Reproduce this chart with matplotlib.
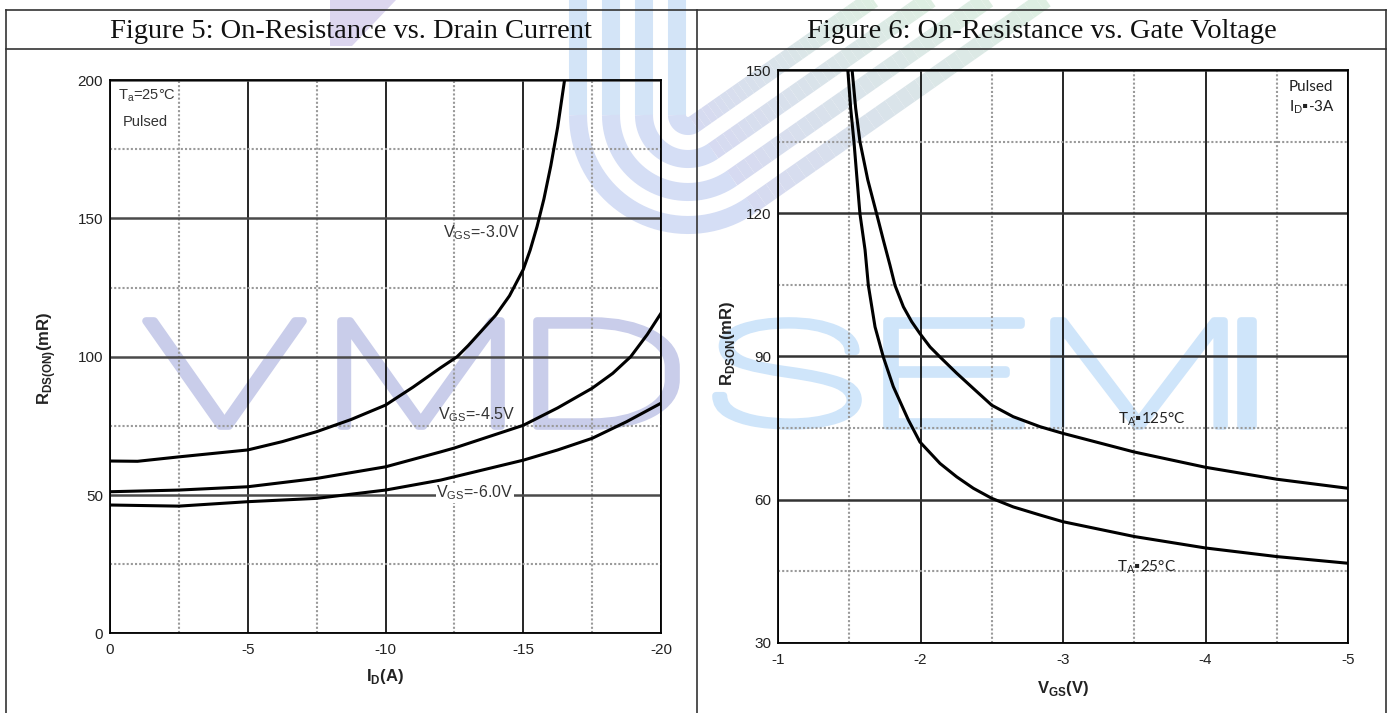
import numpy as np
import matplotlib
matplotlib.use("Agg")
import matplotlib.pyplot as plt
from matplotlib.textpath import TextPath
from matplotlib.font_manager import FontProperties
from matplotlib.patches import PathPatch, Polygon
from matplotlib.collections import LineCollection
from matplotlib.transforms import Affine2D
from matplotlib.colors import to_rgb

# ---------------- data ----------------
# Figure 5: On-Resistance vs. Drain Current
id_vgs30 = [0, -1, -2.5, -5, -6.25, -7.5, -8.75, -10, -11, -12, -12.6, -13, -13.5, -14, -14.5,
            -15, -15.25, -15.5, -15.75, -16, -16.25, -16.5]
r_vgs30 = [62.3, 62.2, 63.8, 66.3, 69.3, 72.9, 77.3, 82.5, 89, 96, 100, 104, 109.5, 115, 122,
           131.5, 138.5, 147, 157, 169, 183, 200]
id_vgs45 = [0, -2.5, -5, -7.5, -10, -12, -12.5, -15, -16.25, -17.5, -18.25, -18.9, -19.5, -20]
r_vgs45 = [51.2, 51.8, 53.0, 56.0, 60.2, 65.6, 67.0, 75.2, 81.5, 88.6, 94, 100, 108, 115.7]
id_vgs60 = [0, -2.5, -5, -7.5, -10, -12, -12.5, -15, -16.25, -17.5, -18.75, -20]
r_vgs60 = [46.4, 46.0, 47.6, 48.8, 51.8, 55.4, 56.6, 62.6, 66.3, 70.5, 76.5, 83.2]

# Figure 6: On-Resistance vs. Gate Voltage
vgs_25 = [-1.49, -1.51, -1.533, -1.555, -1.575, -1.611, -1.634, -1.681, -1.739, -1.809, -1.915,
          -1.996, -2.137, -2.254, -2.371, -2.5, -2.651, -2.839, -3.0, -3.5, -4.0, -4.5, -5.0]
r_25 = [150, 142, 135, 127, 119.9, 112.3, 104.9, 96.2, 89.9, 83.7, 76.7,
        72.1, 67.6, 64.8, 62.4, 60.3, 58.5, 56.8, 55.4, 52.3, 49.9, 48.1, 46.7]
vgs_125 = [-1.52, -1.545, -1.575, -1.63, -1.692, -1.739, -1.786, -1.821, -1.88, -1.938, -1.996,
           -2.067, -2.137, -2.254, -2.371, -2.5, -2.65, -2.839, -3.0, -3.5, -4.0, -4.5, -5.0]
r_125 = [150, 142, 135, 127, 119.9, 114.4, 109.1, 104.9, 100.4, 97.3, 94.8,
         92.0, 89.9, 86.5, 83.3, 79.8, 77.4, 75.3, 73.9, 70.0, 66.8, 64.3, 62.4]

x1_ticks = [0, -5, -10, -15, -20]
x1_labels = ["0", "-5", "-10", "-15", "-20"]
y1_ticks = [0, 50, 100, 150, 200]
y1_labels = ["0", "50", "100", "150", "200"]
x2_ticks = [-1, -2, -3, -4, -5]
x2_labels = ["-1", "-2", "-3", "-4", "-5"]
y2_ticks = [30, 60, 90, 120, 150]
y2_labels = ["30", "60", "90", "120", "150"]

titles = ["Figure 5: On-Resistance vs. Drain Current",
          "Figure 6: On-Resistance vs. Gate Voltage"]

# ---------------- figure ----------------
W, H = 1391, 713
fig = plt.figure(figsize=(W / 100, H / 100), dpi=100)
fig.patch.set_facecolor("white")

bg = fig.add_axes([0, 0, 1, 1], zorder=0)
bg.set_xlim(0, W)
bg.set_ylim(H, 0)
bg.axis("off")

# ---- logo-like watermark bands at the top (nested rounded "V" shapes) ----
m = 0.7
L = np.hypot(1, m)
x0, R0, s = 578, 110, 33
cx, cy = x0 + R0, 115  # common arc centre (y downward)


def lerp(c1, c2, t):
    a, b = np.array(to_rgb(c1)), np.array(to_rgb(c2))
    return a + (b - a) * t


for k in range(4):
    Rk = R0 - k * s
    xv = x0 + k * s
    bg.plot([xv, xv], [-5, cy], color="#d3e4f7", lw=13, solid_capstyle="butt", zorder=0.2)
    ang_end = np.degrees(np.arctan2(-1 / L, m / L))
    th = np.radians(np.linspace(180, 360 + ang_end, 40))
    ax_ = cx + Rk * np.cos(th)
    ay_ = cy - Rk * np.sin(th)
    bg.plot(ax_, ay_, color="#d5def5", lw=13, solid_capstyle="butt", zorder=0.2)
    tx, ty = ax_[-1], ay_[-1]
    xe = tx + ty / m
    n = 30
    xs = np.linspace(tx, xe + 5, n + 1)
    ys = ty - (xs - tx) * m
    segs = [[(xs[i], ys[i]), (xs[i + 1], ys[i + 1])] for i in range(n)]
    cols = [lerp("#d6daf1", "#deefe1", i / n) for i in range(n)]
    bg.add_collection(LineCollection(segs, colors=cols, linewidths=13, capstyle="butt", zorder=0.2))

bg.add_patch(Polygon([(330, 0), (396, 0), (352, 46), (330, 46)], closed=True,
                     fc="#dcd6ef", ec="none", zorder=0.2))

# ---- big text watermark ----
wm_letters = list("VMDSEMI")
wm_boxes = [(146, 303), (341, 501), (537, 676), (716, 858), (887, 1021), (1054, 1224), (1241, 1253)]
wm_colors = ["#c9cdea"] * 3 + ["#cfe5fa"] * 4
fp = FontProperties(family=["Roboto", "DejaVu Sans"], weight="light")
ytop, ybot = 321, 426
for ch, (xa, xb), c in zip(wm_letters, wm_boxes, wm_colors):
    tp = TextPath((0, 0), ch, size=100, prop=fp)
    ext = tp.get_extents()
    sx = (xb - xa) / ext.width
    sy = (ybot - ytop) / ext.height
    tr = Affine2D().translate(-ext.x0, -ext.y0).scale(sx, -sy).translate(xa, ybot)
    bg.add_patch(PathPatch(tr.transform_path(tp), fc=c, ec=c, lw=5.5,
                           joinstyle="round", capstyle="round", zorder=0.5))

# ---- table lines and headers ----
tcol = "#333333"
bg.plot([6, 1386], [10, 10], color=tcol, lw=1.2, zorder=1)
bg.plot([6, 1386], [49, 49], color=tcol, lw=1.2, zorder=1)
for xx in (6, 697, 1386):
    bg.plot([xx, xx], [10, H + 5], color=tcol, lw=1.2, zorder=1)
bg.text(351, 32, titles[0], ha="center", va="center", fontsize=20.5,
        family="Liberation Serif", color="#111111", zorder=2)
bg.text(1042, 32, titles[1], ha="center", va="center", fontsize=20.5,
        family="Liberation Serif", color="#111111", zorder=2)

tick_font = dict(family="Liberation Sans", fontsize=11, color="#222222")


def style_axes(ax, xmaj, xmin, ymaj, ymin, hmaj_color):
    ax.set_facecolor("none")
    ax.set_xticks(xmaj)
    ax.set_xticks(xmin, minor=True)
    ax.set_yticks(ymaj)
    ax.set_yticks(ymin, minor=True)
    ax.tick_params(which="both", length=0)
    ax.tick_params(axis="x", pad=7)
    ax.tick_params(axis="y", pad=5)
    ax.xaxis.grid(True, which="major", color="black", lw=1.2)
    ax.xaxis.grid(True, which="minor", color="#9a9a9a", lw=1.5, ls=(0, (1, 1)))
    ax.yaxis.grid(True, which="major", color=hmaj_color, lw=1.8)
    ax.yaxis.grid(True, which="minor", color="#9a9a9a", lw=1.5, ls=(0, (1, 1)))
    ax.set_axisbelow(True)
    for sp in ax.spines.values():
        sp.set_color("black")
        sp.set_linewidth(1.3)


# ---- left panel ----
ax1 = fig.add_axes([110 / W, 1 - 633.4 / H, 551 / W, 553.4 / H], zorder=1)
ax1.set_xlim(0, -20)
ax1.set_ylim(0, 200)
style_axes(ax1, x1_ticks, [-2.5, -7.5, -12.5, -17.5], y1_ticks, [25, 75, 125, 175], "#4a4a4a")
ax1.set_xticklabels(x1_labels, **tick_font)
ax1.set_yticklabels(y1_labels, **tick_font)
for xs_, ys_ in ((id_vgs30, r_vgs30), (id_vgs45, r_vgs45), (id_vgs60, r_vgs60)):
    ax1.plot(xs_, ys_, color="black", lw=2.2, solid_joinstyle="round", zorder=3)

lab_kw = dict(family="Liberation Sans", fontsize=11.5, color="#333333", ha="left", va="center", zorder=4)
ax1.text(-12.1, 144.7, r"V$_{\mathregular{GS}}$=-3.0V", **lab_kw)
ax1.text(-11.9, 78.9, r"V$_{\mathregular{GS}}$=-4.5V", **lab_kw)
ax1.text(-11.85, 50.7, r"V$_{\mathregular{GS}}$=-6.0V",
         bbox=dict(fc="white", ec="none", pad=0.5), **lab_kw)
small_kw = dict(family=["Liberation Sans", "DejaVu Sans"], fontsize=10.5, color="#333333",
                ha="left", va="center", zorder=4)
ax1.text(-0.29, 194.5, r"T$_{\mathregular{a}}$=25°C", **small_kw)
ax1.text(-0.47, 184.8, "Pulsed", **small_kw)

# ---- right panel ----
ax2 = fig.add_axes([778 / W, 1 - 643 / H, 570 / W, 573 / H], zorder=1)
ax2.set_xlim(-1, -5)
ax2.set_ylim(30, 150)
style_axes(ax2, x2_ticks, [-1.5, -2.5, -3.5, -4.5], y2_ticks, [45, 75, 105, 135], "#333333")
ax2.set_xticklabels(x2_labels, **tick_font)
ax2.set_yticklabels(y2_labels, **tick_font)
for xs_, ys_ in ((vgs_25, r_25), (vgs_125, r_125)):
    ax2.plot(xs_, ys_, color="black", lw=2.2, solid_joinstyle="round", zorder=3)

r_kw = dict(family=["Lato", "DejaVu Sans"], fontsize=11, color="#222222", ha="left", va="center", zorder=4)
ax2.text(-3.386, 76.9, "T$_{\\mathregular{A}}$\u25aa125°C", **r_kw)
ax2.text(-3.38, 45.9, "T$_{\\mathregular{A}}$\u25aa25°C", **r_kw)
ax2.text(-4.586, 146.4, "Pulsed", **r_kw)
ax2.text(-4.586, 142.2, "I$_{\\mathregular{D}}$\u25aa-3A", **r_kw)

# axis labels
lbl_kw = dict(family="Liberation Sans", fontsize=12, fontweight="bold", color="#222222",
              ha="center", va="center")
fig.text(47 / W, 1 - 358 / H, r"R$_{\mathregular{DS(ON)}}$(mR)", rotation=90, **lbl_kw)
fig.text(385 / W, 1 - 676 / H, r"I$_{\mathregular{D}}$(A)", **lbl_kw)
fig.text(728 / W, 1 - 343 / H, r"R$_{\mathregular{DSON}}$(mR)", rotation=90, **lbl_kw)
fig.text(1063 / W, 1 - 688 / H, r"V$_{\mathregular{GS}}$(V)", **lbl_kw)

fig.savefig("out.png", dpi=100, facecolor="white")
